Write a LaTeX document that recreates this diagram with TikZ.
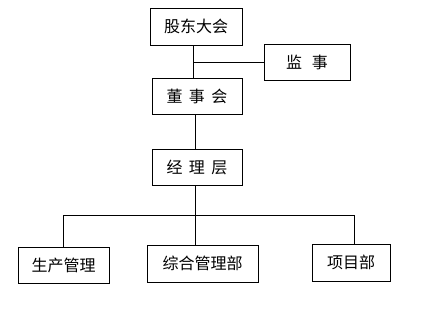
\documentclass[tikz,border=0pt]{standalone}
\usepackage{fontspec}
\newfontfamily\cjk{Noto Sans CJK SC}
\usetikzlibrary{positioning}

\begin{document}
\begin{tikzpicture}[
    x=1pt, y=-1pt,
    box/.style={draw, line width=0.8pt, minimum height=36pt, inner sep=2pt,
                font=\cjk\fontsize{16}{18}\selectfont},
    link/.style={line width=0.8pt}
]
\useasboundingbox (0,0) rectangle (426,311);

\node[box, minimum width=92pt, minimum height=37pt] (gd) at (196,26.5) {股东大会};
\node[box, minimum width=86pt] (js) at (307,62) {监\hspace{0.6em}事};
\node[box, minimum width=90pt] (ds) at (197,96) {董\hspace{0.4em}事\hspace{0.4em}会};
\node[box, minimum width=90pt] (jl) at (197,167) {经\hspace{0.4em}理\hspace{0.4em}层};
\node[box, minimum width=91pt] (sc) at (63.5,265) {生产管理};
\node[box, minimum width=111pt, minimum height=37pt] (zh) at (202.5,263.5) {综合管理部};
\node[box, minimum width=78pt, minimum height=37pt] (xm) at (351,262.5) {项目部};

\coordinate (j1) at (193,62);
\coordinate (bus) at (195,215);

\draw[link] (gd.south -| j1) -- (ds.north -| j1);
\draw[link] (j1) -- (js.west |- j1);
\draw[link] (ds.south -| bus) -- (jl.north -| bus);
\draw[link] (jl.south -| bus) -- (zh.north -| bus);
\draw[link] (sc.north) -- (sc.north |- bus) -- (bus -| 354,0) -- (xm.north -| 354,0);
\end{tikzpicture}
\end{document}
